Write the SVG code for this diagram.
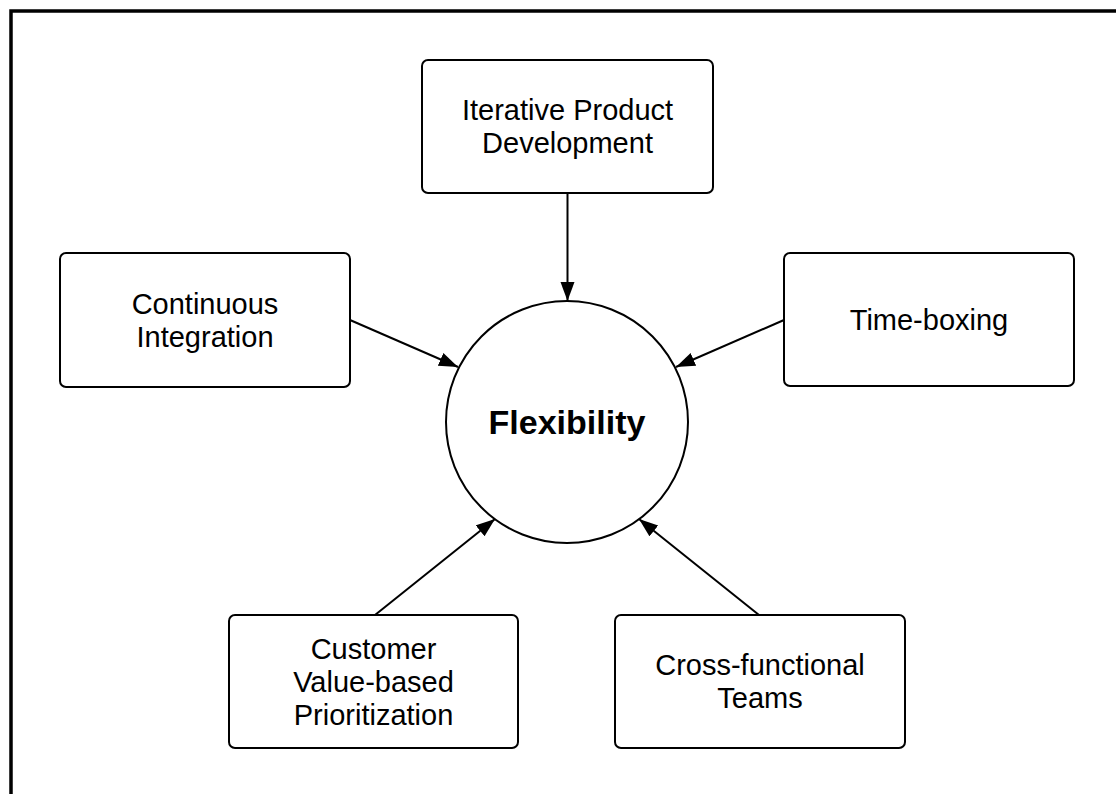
<svg xmlns="http://www.w3.org/2000/svg" width="1116" height="794" viewBox="0 0 1116 794">
  <style>
    .box { fill: #ffffff; stroke: #000000; stroke-width: 2; }
    .lbl { font-family: "Liberation Sans", Arial, sans-serif; font-size: 29px; fill: #000000; text-anchor: middle; }
    .title { font-family: "Liberation Sans", Arial, sans-serif; font-size: 34px; font-weight: bold; fill: #000000; text-anchor: middle; }
    .edge { stroke: #000000; stroke-width: 2; fill: none; marker-end: url(#arrow); }
  </style>
  <defs>
    <marker id="arrow" markerUnits="userSpaceOnUse" markerWidth="20" markerHeight="16" refX="19" refY="7" orient="auto">
      <path d="M0,0 L19,7 L0,14 z" fill="#000000"/>
    </marker>
  </defs>
  <rect x="0" y="0" width="1116" height="794" fill="#ffffff"/>
  <rect x="11" y="11" width="1200" height="900" fill="none" stroke="#000000" stroke-width="3.5"/>

  <g id="connectors">
    <line class="edge" x1="567.5" y1="193" x2="567.5" y2="301"/>
    <line class="edge" x1="350" y1="320" x2="458" y2="367"/>
    <line class="edge" x1="784" y1="320" x2="676" y2="367"/>
    <line class="edge" x1="375" y1="615" x2="495" y2="519"/>
    <line class="edge" x1="759" y1="615" x2="639" y2="519"/>
  </g>

  <g id="node-flexibility">
    <circle cx="567" cy="422" r="121" fill="#ffffff" stroke="#000000" stroke-width="2"/>
    <text class="title" x="567" y="434">Flexibility</text>
  </g>

  <g id="node-iterative">
    <rect class="box" x="422" y="60" width="291" height="133" rx="6"/>
    <text class="lbl" x="567.5" y="120">Iterative Product</text>
    <text class="lbl" x="567.5" y="153">Development</text>
  </g>

  <g id="node-continuous">
    <rect class="box" x="60" y="253" width="290" height="134" rx="6"/>
    <text class="lbl" x="205" y="313.5">Continuous</text>
    <text class="lbl" x="205" y="346.5">Integration</text>
  </g>

  <g id="node-timeboxing">
    <rect class="box" x="784" y="253" width="290" height="133" rx="6"/>
    <text class="lbl" x="929" y="330">Time-boxing</text>
  </g>

  <g id="node-customer">
    <rect class="box" x="229" y="615" width="289" height="133" rx="6"/>
    <text class="lbl" x="373.5" y="659">Customer</text>
    <text class="lbl" x="373.5" y="692">Value-based</text>
    <text class="lbl" x="373.5" y="725">Prioritization</text>
  </g>

  <g id="node-crossfunctional">
    <rect class="box" x="615" y="615" width="290" height="133" rx="6"/>
    <text class="lbl" x="760" y="675">Cross-functional</text>
    <text class="lbl" x="760" y="708">Teams</text>
  </g>
</svg>
